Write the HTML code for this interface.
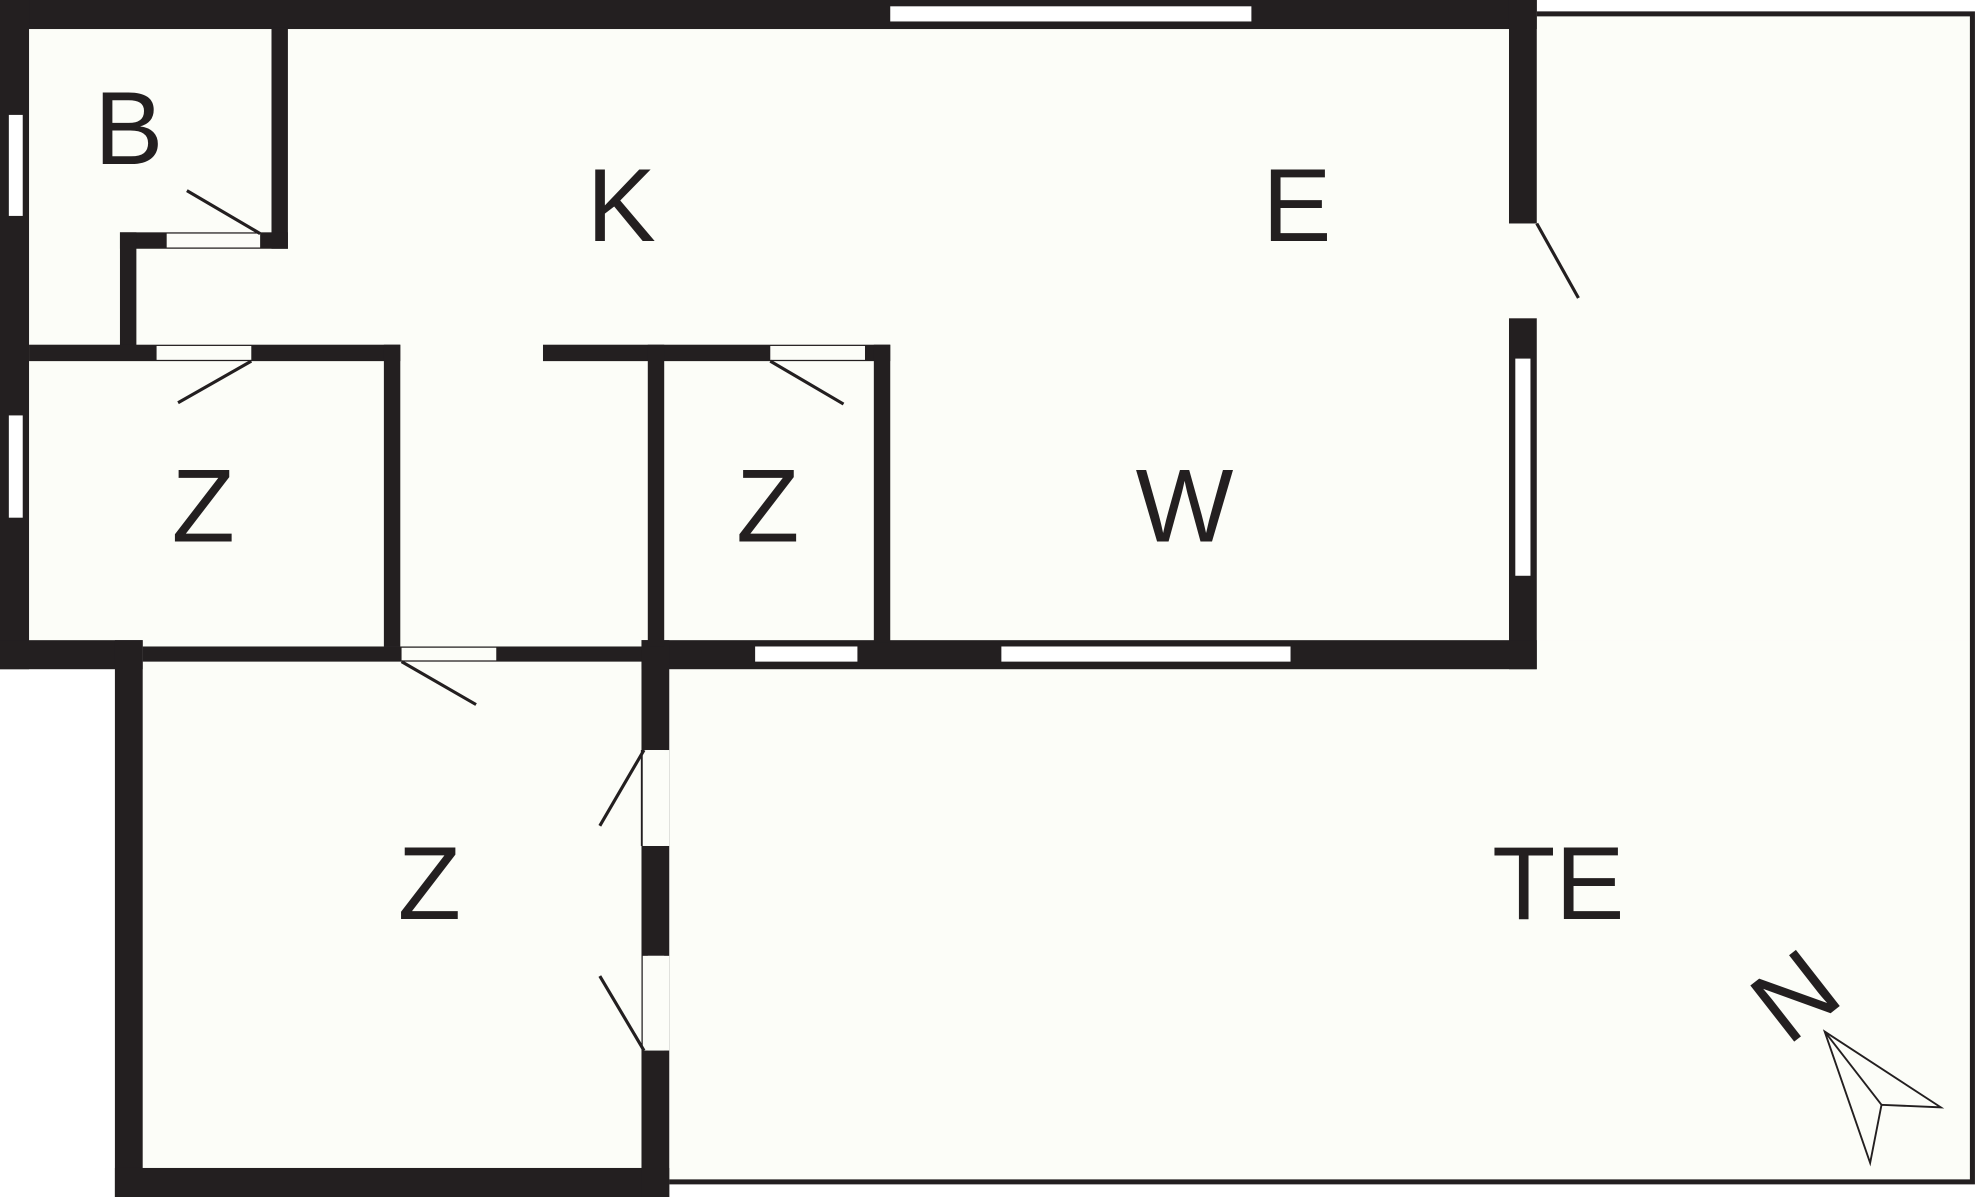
<!DOCTYPE html>
<html><head><meta charset="utf-8"><style>
html,body{margin:0;padding:0;background:#fff;}
svg{display:block;}
text{font-family:"Liberation Sans",sans-serif;fill:#231f20;}
</style></head><body>
<svg width="1980" height="1197" viewBox="0 0 1568 948" preserveAspectRatio="none" xmlns="http://www.w3.org/2000/svg">
<rect width="1568" height="948" fill="#fff"/>
<rect x="0" y="0" width="1217" height="530" fill="#fcfdf8"/>
<rect x="91" y="507" width="439" height="441" fill="#fcfdf8"/>
<rect x="1217" y="10" width="345" height="927" fill="#fcfdf8"/>
<rect x="530" y="507" width="1032" height="430" fill="#fcfdf8"/>
<polyline points="1217,11 1562,11 1562,936 530,936" fill="none" stroke="#231f20" stroke-width="4"/>
<g fill="#231f20">
<rect x="0" y="0" width="1217" height="23"/>
<rect x="0" y="0" width="23" height="530"/>
<rect x="1195" y="0" width="22" height="177"/>
<rect x="1195" y="252" width="22" height="278"/>
<rect x="0" y="507" width="113" height="23"/>
<rect x="113" y="512" width="397" height="12"/>
<rect x="508" y="507" width="709" height="23"/>
<rect x="91" y="507" width="22" height="441"/>
<rect x="91" y="925" width="439" height="23"/>
<rect x="508" y="507" width="22" height="441"/>
<rect x="215" y="22" width="13" height="175"/>
<rect x="95" y="184" width="133" height="13"/>
<rect x="95" y="184" width="13" height="96"/>
<rect x="23" y="273" width="294" height="13"/>
<rect x="304" y="273" width="13" height="239"/>
<rect x="430" y="273" width="275" height="13"/>
<rect x="513" y="273" width="13" height="239"/>
<rect x="692" y="273" width="13" height="236"/>
</g>
<g fill="#fff">
<rect x="705" y="5" width="286" height="12"/>
<rect x="7" y="91" width="11" height="80"/>
<rect x="7" y="329" width="11" height="81"/>
<rect x="1200" y="284" width="12" height="172"/>
<rect x="598" y="512" width="81" height="12"/>
<rect x="793" y="512" width="229" height="12"/>
<rect x="513" y="594" width="13" height="76"/>
<rect x="513" y="757" width="13" height="75"/>
</g>
<g fill="#fcfdf8">
<rect x="132" y="185" width="74" height="11"/>
<rect x="124" y="274" width="75" height="11"/>
<rect x="610" y="274" width="75" height="11"/>
<rect x="318" y="513" width="75" height="10"/>
<rect x="1195" y="177" width="22" height="75"/>
<rect x="509" y="594" width="21" height="76"/>
<rect x="509" y="757" width="21" height="75"/>
</g>
<g fill="none" stroke="#231f20" stroke-width="2.5">
<line x1="148" y1="151" x2="206" y2="185"/>
<line x1="141" y1="319" x2="199" y2="286"/>
<line x1="610" y1="286" x2="668" y2="320"/>
<line x1="318" y1="524" x2="377" y2="558"/>
<line x1="1217" y1="177" x2="1250" y2="236"/>
<line x1="510" y1="594" x2="475" y2="654"/>
<line x1="510" y1="832" x2="475" y2="773"/>
<line x1="508" y1="594" x2="508" y2="670" stroke-width="1"/>
</g>
<g font-size="82" text-anchor="middle">
<text x="102" y="130">B</text>
<text x="492" y="191">K</text>
<text x="1027" y="191">E</text>
<text x="161" y="429">Z</text>
<text x="608" y="429">Z</text>
<text x="938" y="429">W</text>
<text x="340" y="728">Z</text>
<text x="1234" y="728">TE</text>
<text x="0" y="29" transform="translate(1421,788) rotate(-38)">N</text>
</g>
<g fill="none" stroke="#231f20" stroke-width="1.5">
<polygon points="1445,817 1537,877 1490,875 1481,921"/>
<line x1="1445" y1="817" x2="1490" y2="875"/>
</g>
</svg>
</body></html>
